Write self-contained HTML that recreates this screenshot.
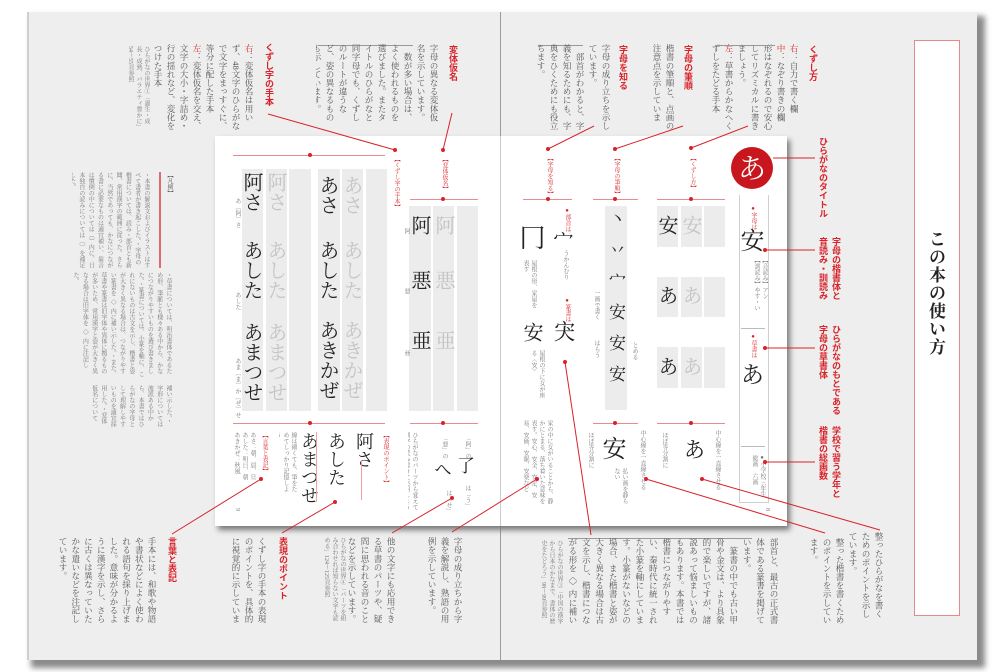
<!DOCTYPE html>
<html><head><meta charset="utf-8"><style>
html,body{margin:0;padding:0;background:#fff;}
body{width:1000px;height:672px;position:relative;overflow:hidden;font-family:"Liberation Serif","Noto Serif CJK SC",serif;}
.a{position:absolute;}
.v{position:absolute;writing-mode:vertical-rl;color:#555;font-size:8.6px;line-height:13px;overflow:hidden;}
.r{position:absolute;writing-mode:vertical-rl;color:#d8232a;font-family:"Liberation Sans","Noto Sans CJK JP",sans-serif;font-weight:bold;font-size:9px;line-height:13px;}
.rs{position:absolute;writing-mode:vertical-rl;color:#d8232a;font-size:6px;line-height:7px;}
.s{position:absolute;writing-mode:vertical-rl;color:#777;font-size:6px;line-height:8px;overflow:hidden;}
.g{position:absolute;background:#ececec;}
.hl{position:absolute;height:1px;background:#e98b8b;}
.dot{position:absolute;width:4px;height:4px;border-radius:2px;background:#d8232a;}
.ch{position:absolute;writing-mode:vertical-rl;font-family:"Noto Serif CJK SC",serif;color:#222;font-size:20px;line-height:22px;}
.cg{color:#c4c4c4;}
.red{color:#d8232a;}
</style></head><body>
<!-- book -->
<div class="a" style="left:31px;top:16px;width:954px;height:652px;background:#8a8a8a;filter:blur(3px);"></div>
<div class="a" style="left:27px;top:12px;width:948px;height:648px;background:#eeeeee;border-left:2px solid #cfcfcf;"></div>
<div class="a" style="left:500px;top:12px;width:1px;height:648px;background:#9a9a9a;"></div>

<!-- title box -->
<div class="a" style="left:914px;top:40px;width:44px;height:574px;background:#fff;border:1px solid #e58a8a;"></div>
<div class="a" style="left:925px;top:230px;writing-mode:vertical-rl;font-size:17px;font-family:'Noto Serif CJK SC',serif;color:#222;letter-spacing:1px;font-weight:bold;">この本の使い方</div>

<!-- inner page shadow + page -->
<div class="a" style="left:218px;top:140px;width:572px;height:390px;background:#777;filter:blur(3px);"></div>
<div class="a" style="left:215px;top:136px;width:572px;height:390px;background:#fff;"></div>
<div class="a" style="left:500px;top:136px;width:1px;height:390px;background:#ccc;"></div>

<!-- top-left texts -->
<div class="r" style="left:446px;top:45px;">変体仮名</div>
<div class="a" style="left:318px;top:45px;width:95px;height:1px;background:#999;"></div>
<div class="v" style="left:316px;top:44px;width:124px;height:84px;">字母の異なる変体仮名を示しています。<br>　数が多い場合は、よく使われるものを選びました。またタイトルのひらがなと同字母でも、くずしのルートが違うなど、姿の異なるものも示しています。</div>
<div class="r" style="left:262px;top:43px;">くずし字の手本</div>
<div class="v" style="left:154px;top:44px;width:101px;height:86px;"><span class="red">右</span>：変体仮名は用いず、48文字のひらがなで文字をまっすぐに、等分に配した手本<br><span class="red">左</span>：変体仮名を交え、文字の大小・字詰め・行の揺れなど、変化をつけた手本</div>
<div class="s" style="left:124px;top:46px;width:26px;height:84px;">ひらがなの世界①「誕生・成長・成熟、バラエティ豊かに」54〜55頁参照</div>

<!-- left margin 凡例 -->
<div class="rs" style="left:165px;top:172px;color:#555;">【凡例】</div>
<div class="a" style="left:159px;top:172px;width:1.5px;height:96px;background:#e06a6a;"></div>
<div class="s" style="left:72px;top:172px;width:78px;height:96px;line-height:9.3px;">・本書の解説文およびイラストはすべて書者が書き起こした。・字母の楷書については、読み・部首とも新聞、常用漢字の範囲に従った。さらに、当然であっても、かなにつながる書に必要なものは適宜補い、歯音は慣例の中については（）内に、日本独自の読みについては〔〕を補足した。</div>
<div class="s" style="left:72px;top:272px;width:100px;height:106px;line-height:9.3px;">・草書については、明治書体であるため形、筆脈とも様々ある中から、かなにつながりやすいものを選び書きました。・篆書については、小篆を軸に、これにないものは古文を示し、楷書と姿が大きく異なる場合は、つながりやすい篆書を〈〉内に補い示した。・また、草書や篆書は旧字体や異体に拠るものが多いため、常用漢字と姿が大きく異なる場合は旧字体を〈〉内に注記した。</div>
<div class="s" style="left:72px;top:385px;width:100px;height:44px;line-height:9.3px;">補い示した。・字形については流派ある中から、本書ではひらがなの字母として理解しやすいものを適宜採用した。・変体仮名について</div>

<!-- top-right texts -->
<div class="r" style="left:806px;top:45px;">くずし方</div>
<div class="v" style="left:712px;top:44px;width:88px;height:86px;"><span class="red">右</span>：自力で書く欄<br><span class="red">中</span>：なぞり書きの欄　形はなぞれるので安心してリズミカルに書きましょう。<br><span class="red">左</span>：草書からかなへくずしをたどる手本</div>
<div class="a" style="left:715px;top:45px;width:60px;height:1px;background:#999;"></div>
<div class="r" style="left:681px;top:45px;">字母の筆順</div>
<div class="v" style="left:648px;top:44px;width:28px;height:86px;">楷書の筆順と、点画の注意点を示しています。</div>
<div class="r" style="left:616px;top:45px;">字母を知る</div>
<div class="a" style="left:538px;top:45px;width:45px;height:1px;background:#999;"></div>
<div class="v" style="left:536px;top:44px;width:76px;height:86px;">字母の成り立ちを示しています。<br>　部首がわかると、字義を知るためにも、字典をひくためにも役立ちます。</div>

<!-- right labels -->
<div class="r" style="left:816px;top:137px;">ひらがなのタイトル</div>
<div class="r" style="left:816px;top:237px;width:26px;">字母の楷書体と<br>音読み・訓読み</div>
<div class="r" style="left:816px;top:325px;width:26px;">ひらがなのもとである<br>字母の草書体</div>
<div class="r" style="left:816px;top:426px;width:26px;">学校で習う学年と<br>楷書の総画数</div>

<!-- bottom-left texts -->
<div class="r" style="left:165px;top:537px;">言葉と表記</div>
<div class="v" style="left:57px;top:537px;width:101px;height:90px;line-height:12.7px;">手本には、和歌や物語や書状などによく使われる語句を採り上げました。意味が分かるように漢字を示し、さらに古くは異なっていたかな遣いなどを注記しています。</div>
<div class="r" style="left:276px;top:537px;">表現のポイント</div>
<div class="v" style="left:228px;top:537px;width:40px;height:90px;">くずし字の手本の表現のポイントを、具体的に視覚的に示しています。</div>
<div class="v" style="left:343px;top:537px;width:54px;height:90px;">他の文字にも応用できる草書のパーツや、疑問に思われる音のことなどを示しています。</div>
<div class="s" style="left:322px;top:537px;width:24px;height:84px;">ひらがなの世界④「パーツを組み合わせれば知らない文字も読める」124〜125頁参照</div>
<div class="v" style="left:424px;top:537px;width:40px;height:90px;">字母の成り立ちから字義を解説し、熟語の用例を示しています。</div>

<!-- bottom-right texts -->
<div class="a" style="left:568px;top:538px;width:184px;height:1px;background:#999;"></div>
<div class="s" style="left:537px;top:540px;width:26px;height:84px;">ひらがなの世界③「中国の漢字から日本のかなまで、書体の歴史をたどろう」98〜99頁参照</div>
<div class="v" style="left:565px;top:538px;width:215px;height:90px;line-height:13.4px;">部首と、最古の正式書体である篆書を掲げています。<br>　篆書の中でも古い甲骨や金文は、より具象的で楽しいですが、諸説あって悩ましいものもあります。本書では楷書につながりやすい、秦時代に統一された小篆を軸にしています。小篆がないなどの場合、また楷書と姿が大きく異なる場合は古文を示し、楷書につながる形を〈〉内に補い示しました。</div>
<div class="v" style="left:806px;top:538px;width:40px;height:90px;">整った楷書を書くためのポイントを示しています。</div>
<div class="v" style="left:845px;top:532px;width:40px;height:90px;">整ったひらがなを書くためのポイントを示しています。</div>

<!-- LEFT inner page content -->
<div class="rs" style="left:392px;top:156px;">【くずし字の手本】</div>
<div class="rs" style="left:440px;top:156px;">【変体仮名】</div>
<div class="hl" style="left:233px;top:155px;width:152px;"></div><div class="dot" style="left:308px;top:153px;"></div>
<div class="hl" style="left:410px;top:199px;width:68px;"></div><div class="dot" style="left:441px;top:197px;"></div>
<div class="g" style="left:242px;top:169px;width:21px;height:242px;"></div>
<div class="g" style="left:266px;top:169px;width:21px;height:242px;"></div>
<div class="g" style="left:289px;top:169px;width:22px;height:242px;"></div>
<div class="g" style="left:318px;top:169px;width:22px;height:242px;"></div>
<div class="g" style="left:342px;top:169px;width:21px;height:242px;"></div>
<div class="g" style="left:366px;top:169px;width:21px;height:242px;"></div>
<div class="g" style="left:409px;top:206px;width:22px;height:205px;"></div>
<div class="g" style="left:433px;top:206px;width:21px;height:205px;"></div>
<div class="g" style="left:457px;top:206px;width:21px;height:205px;"></div>
<div class="ch" style="left:242px;top:172px;">阿さ</div>
<div class="ch" style="left:242px;top:240px;">あした</div>
<div class="ch" style="left:242px;top:322px;">あまつせ</div>
<div class="ch cg" style="left:266px;top:172px;">阿さ</div>
<div class="ch cg" style="left:266px;top:240px;">あした</div>
<div class="ch cg" style="left:266px;top:322px;">あまつせ</div>
<div class="ch" style="left:318px;top:175px;">あさ</div>
<div class="ch" style="left:318px;top:240px;">あした</div>
<div class="ch" style="left:318px;top:320px;">あきかぜ</div>
<div class="ch cg" style="left:342px;top:175px;">あさ</div>
<div class="ch cg" style="left:342px;top:240px;">あした</div>
<div class="ch cg" style="left:342px;top:320px;">あきかぜ</div>
<div class="ch" style="left:410px;top:215px;">阿</div><div class="ch cg" style="left:434px;top:215px;">阿</div>
<div class="ch" style="left:410px;top:270px;">悪</div><div class="ch cg" style="left:434px;top:270px;">悪</div>
<div class="ch" style="left:410px;top:330px;">亜</div><div class="ch cg" style="left:434px;top:330px;">亜</div>
<div class="s" style="left:233px;top:198px;">あ〔阿〕さ</div>
<div class="s" style="left:233px;top:292px;">あした</div>
<div class="s" style="left:233px;top:358px;">あま〔ま〕か〔ぜ〕せ</div>
<div class="s" style="left:402px;top:228px;">阿</div><div class="s" style="left:402px;top:288px;">悪</div><div class="s" style="left:402px;top:350px;">亜</div>
<div class="hl" style="left:233px;top:423px;width:152px;"></div><div class="dot" style="left:308px;top:421px;"></div>
<div class="hl" style="left:410px;top:423px;width:68px;"></div><div class="dot" style="left:441px;top:421px;"></div>
<div class="rs" style="left:260px;top:432px;">【言葉と表記】</div>
<div class="s" style="left:232px;top:432px;width:24px;height:60px;">あさ：朝、晨、旦<br>あした：明日、朝<br>あきかぜ：秋風</div>
<div class="s" style="left:279px;top:432px;width:18px;height:60px;">線は細くても、筆をためてしっかり記憶しよう</div>
<div class="ch" style="left:300px;top:432px;font-size:18px;line-height:20px;">あまつせ</div>
<div class="ch" style="left:327px;top:432px;font-size:18px;line-height:20px;">あした</div>
<div class="ch" style="left:355px;top:432px;font-size:18px;line-height:20px;">阿さ</div>
<div class="a" style="left:316px;top:432px;width:1px;height:70px;background:#f0a0a0;"></div>
<div class="a" style="left:361px;top:460px;width:1px;height:40px;background:#f0a0a0;"></div>
<div class="rs" style="left:381px;top:432px;">【表現のポイント】</div>
<div class="s" style="left:408px;top:432px;width:10px;height:80px;">ひらがなのパーツから覚えて別字の読み書きに応用しよう</div>
<div class="s" style="left:440px;top:435px;">「悪」の</div>
<div class="ch" style="left:432px;top:460px;font-size:18px;">へ</div>
<div class="s" style="left:444px;top:490px;">は「せ」</div>
<div class="s" style="left:463px;top:435px;">「阿」の</div>
<div class="ch" style="left:455px;top:456px;font-size:18px;">了</div>
<div class="s" style="left:463px;top:485px;">は「う」</div>
<div class="s" style="left:233px;top:508px;">9</div>

<!-- RIGHT inner page content -->
<div class="rs" style="left:545px;top:155px;">【字母を知る】</div>
<div class="rs" style="left:612px;top:155px;">【字母の筆順】</div>
<div class="rs" style="left:688px;top:155px;">【くずし方】</div>
<div class="hl" style="left:523px;top:199px;width:49px;"></div><div class="dot" style="left:546px;top:197px;"></div>
<div class="hl" style="left:593px;top:199px;width:45px;"></div><div class="dot" style="left:613px;top:197px;"></div>
<div class="hl" style="left:657px;top:199px;width:68px;"></div><div class="dot" style="left:689px;top:197px;"></div>
<div class="rs" style="left:563px;top:208px;">●部首は</div>
<div class="ch" style="left:552px;top:230px;">宀</div>
<div class="ch" style="left:521px;top:224px;font-size:26px;">冂</div>
<div class="s" style="left:561px;top:250px;">うかんむり</div>
<div class="s" style="left:523px;top:260px;width:14px;height:50px;">屋根の形、家屋を表す</div>
<div class="rs" style="left:563px;top:298px;">●篆書は</div>
<div class="ch" style="left:553px;top:320px;font-size:22px;">宊</div>
<div class="ch" style="left:522px;top:322px;">安</div>
<div class="s" style="left:523px;top:350px;width:22px;height:50px;">屋根の下に女が座る〈安〉</div>
<div class="s" style="left:508px;top:420px;width:45px;height:88px;">家の中に女がいることから、静かにとまる、落ち着いた意味を表す。安心、安全、安定、安易、安価、安眠、安楽など</div>
<div class="g" style="left:605px;top:206px;width:22px;height:204px;"></div>
<div class="ch" style="left:606px;top:210px;font-size:17px;line-height:22px;letter-spacing:14px;">丶丷宀安安安</div>
<div class="s" style="left:592px;top:290px;">一画で書く</div>
<div class="s" style="left:592px;top:340px;">はらう</div>
<div class="s" style="left:630px;top:342px;">とめる</div>
<div class="g" style="left:657px;top:206px;width:21px;height:41px;"></div>
<div class="g" style="left:681px;top:206px;width:21px;height:41px;"></div>
<div class="g" style="left:704px;top:206px;width:21px;height:41px;"></div>
<div class="g" style="left:657px;top:277px;width:21px;height:40px;"></div>
<div class="g" style="left:681px;top:277px;width:21px;height:40px;"></div>
<div class="g" style="left:704px;top:277px;width:21px;height:40px;"></div>
<div class="g" style="left:657px;top:347px;width:21px;height:41px;"></div>
<div class="g" style="left:681px;top:347px;width:21px;height:41px;"></div>
<div class="g" style="left:704px;top:347px;width:21px;height:41px;"></div>
<div class="ch" style="left:657px;top:215px;">安</div><div class="ch cg" style="left:681px;top:215px;">安</div>
<div class="ch" style="left:657px;top:285px;">あ</div><div class="ch cg" style="left:681px;top:285px;">あ</div>
<div class="ch" style="left:657px;top:356px;">あ</div><div class="ch cg" style="left:681px;top:356px;">あ</div>
<div class="hl" style="left:593px;top:423px;width:45px;"></div><div class="dot" style="left:613px;top:421px;"></div>
<div class="hl" style="left:657px;top:423px;width:68px;"></div><div class="dot" style="left:689px;top:421px;"></div>
<div class="ch" style="left:603px;top:436px;font-size:24px;">安</div>
<div class="s" style="left:632px;top:430px;width:14px;height:70px;">中心線を一直線させる</div>
<div class="s" style="left:584px;top:432px;width:10px;">ほぼ等分割に</div>
<div class="s" style="left:612px;top:468px;width:16px;height:40px;">払い画を静らない</div>
<div class="ch" style="left:683px;top:438px;font-size:22px;">あ</div>
<div class="s" style="left:707px;top:430px;width:14px;height:70px;">中心線を一直線させる</div>
<div class="s" style="left:660px;top:432px;">ほぼ等分割に</div>
<!-- title sidebar -->
<div class="a" style="left:739px;top:195px;width:28px;height:307px;border:1px solid #cfcfcf;border-top:none;background:#fff;"></div>
<div class="a" style="left:741px;top:328px;width:24px;height:1px;background:#bbb;"></div>
<div class="a" style="left:741px;top:446px;width:24px;height:1px;background:#bbb;"></div>
<div class="a" style="left:731px;top:147px;width:42px;height:42px;border-radius:21px;background:#c8161e;"></div>
<div class="a" style="left:731px;top:150px;width:42px;text-align:center;color:#fff;font-size:28px;line-height:34px;font-family:'Noto Serif CJK SC',serif;">あ</div>
<div class="rs" style="left:749px;top:206px;">●字母は</div>
<div class="ch" style="left:741px;top:228px;font-size:24px;">安</div>
<div class="s" style="left:748px;top:257px;width:20px;height:60px;">【音読み】アン<br>【訓読み】やす・い</div>
<div class="rs" style="left:749px;top:334px;">●草書は</div>
<div class="ch" style="left:741px;top:362px;font-size:24px;">あ</div>
<div class="s" style="left:746px;top:455px;width:20px;height:44px;">●小学校三年生<br>総画　六画</div>
<div class="s" style="left:763px;top:508px;">8</div>

<!-- dots at connector ends -->
<div class="dot" style="left:393px;top:148px;"></div>
<div class="dot" style="left:441px;top:148px;"></div>
<div class="dot" style="left:546px;top:147px;"></div>
<div class="dot" style="left:613px;top:147px;"></div>
<div class="dot" style="left:689px;top:146px;"></div>
<div class="dot" style="left:563px;top:360px;"></div>
<div class="dot" style="left:535px;top:477px;"></div>
<div class="dot" style="left:644px;top:477px;"></div>
<div class="dot" style="left:700px;top:477px;"></div>
<div class="dot" style="left:259px;top:477px;"></div>
<div class="dot" style="left:333px;top:500px;"></div>
<div class="dot" style="left:450px;top:496px;"></div>
<div class="dot" style="left:763px;top:248px;"></div>
<div class="dot" style="left:763px;top:346px;"></div>
<div class="dot" style="left:763px;top:460px;"></div>

<!-- connectors -->
<svg class="a" style="left:0;top:0;" width="1000" height="672">
<g stroke="#d8232a" stroke-width="1" fill="none">
<line x1="452" y1="113" x2="443" y2="150"/>
<line x1="268" y1="114" x2="395" y2="150"/>
<line x1="594" y1="126" x2="548" y2="149"/>
<line x1="683" y1="126" x2="615" y2="149"/>
<line x1="748" y1="126" x2="691" y2="148"/>
<line x1="773" y1="158" x2="815" y2="158"/>
<line x1="765" y1="250" x2="815" y2="250"/>
<line x1="765" y1="348" x2="815" y2="348"/>
<line x1="765" y1="462" x2="815" y2="462"/>
<line x1="565" y1="362" x2="591" y2="535"/>
<line x1="537" y1="479" x2="452" y2="532"/>
<line x1="646" y1="479" x2="825" y2="533"/>
<line x1="702" y1="479" x2="880" y2="530"/>
<line x1="452" y1="498" x2="392" y2="533"/>
<line x1="335" y1="502" x2="282" y2="533"/>
<line x1="261" y1="479" x2="172" y2="534"/>
</g></svg>
</body></html>
